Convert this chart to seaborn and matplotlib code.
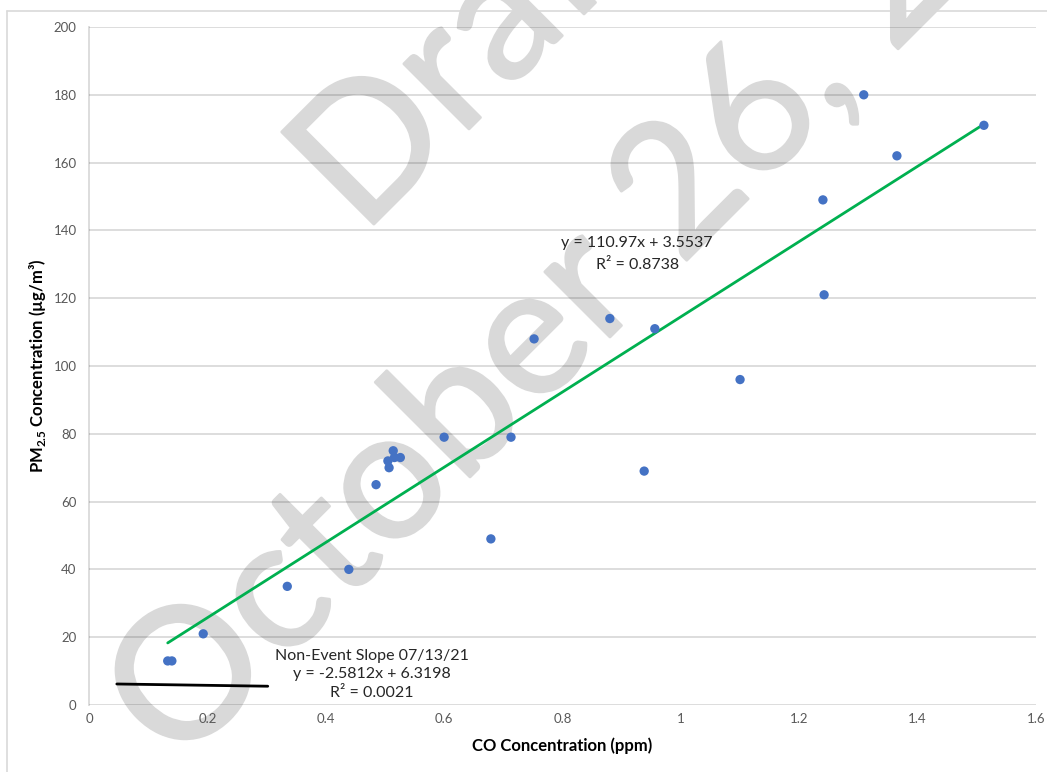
import seaborn as sns
import matplotlib.pyplot as plt
import matplotlib.ticker as mticker
import matplotlib.patheffects as pe
from matplotlib.lines import Line2D
import pandas as pd
import numpy as np

# Data
co_ppm = [0.133, 0.140, 0.193, 0.335, 0.439, 0.485, 0.505, 0.507, 0.514, 0.516, 0.526, 0.600,
          0.679, 0.713, 0.752, 0.880, 0.938, 0.956, 1.100, 1.240, 1.242, 1.309, 1.365, 1.512]
pm25 = [13, 13, 21, 35, 40, 65, 72, 70, 75, 73, 73, 79,
        49, 79, 108, 114, 69, 111, 96, 149, 121, 180, 162, 171]

# Trend lines (coefficients from the chart labels)
event_slope, event_icpt = 110.97, 3.5537
nonevent_slope, nonevent_icpt = -2.5812, 6.3198
nonevent_x = [0.047, 0.302]

event_label = ["y = 110.97x + 3.5537", "R² = 0.8738"]
nonevent_label = ["Non-Event Slope 07/13/21", "y = -2.5812x + 6.3198", "R² = 0.0021"]
watermark = ["Draft", "October 26, 2021"]

x_ticks = [0, 0.2, 0.4, 0.6, 0.8, 1.0, 1.2, 1.4, 1.6]
y_ticks = list(range(0, 201, 20))

df = pd.DataFrame({"co": co_ppm, "pm": pm25})
fit_x = [min(co_ppm), max(co_ppm)]
fit = pd.DataFrame({"x": fit_x, "y": [event_slope * v + event_icpt for v in fit_x]})
nonevent = pd.DataFrame({"x": nonevent_x, "y": [nonevent_slope * v + nonevent_icpt for v in nonevent_x]})

sns.set_style("white")
plt.rcParams['font.family'] = ['Lato', 'DejaVu Sans']
plt.rcParams['mathtext.fontset'] = 'custom'
plt.rcParams['mathtext.rm'] = 'Lato'
plt.rcParams['mathtext.bf'] = 'Lato:bold'

W, H = 1047, 772
fig = plt.figure(figsize=(W / 100, H / 100), dpi=100)
fig.patch.set_facecolor("white")

# watermark behind the (transparent) axes
wm_kw = dict(rotation=45, rotation_mode='anchor', ha='center', va='baseline',
             fontsize=131, color='#d9d9d9', zorder=0,
             path_effects=[pe.withStroke(linewidth=2, foreground='#d9d9d9')])
fig.text(512 / W, 1 - 86 / H, watermark[0], **wm_kw)
fig.text(684 / W, 1 - 263 / H, watermark[1], **wm_kw)

# chart area border (top & left visible)
fx, fy = 7 / W, 1 - 11 / H
fig.add_artist(Line2D([fx, 1], [fy, fy], color='#d9d9d9', lw=1.2))
fig.add_artist(Line2D([fx, fx], [0, fy], color='#d9d9d9', lw=1.2))

ax = fig.add_axes([89 / W, 1 - 705 / H, (1036 - 89) / W, (705 - 27) / H])
ax.set_zorder(1)
ax.patch.set_alpha(0)

sns.lineplot(data=fit, x="x", y="y", ax=ax, color="#00b050", lw=2, zorder=3)
sns.lineplot(data=nonevent, x="x", y="y", ax=ax, color="black", lw=2, zorder=3)
sns.scatterplot(data=df, x="co", y="pm", ax=ax, color="#4472c4", s=45, edgecolor="none", zorder=4)

ax.set_xlim(0, 1.6)
ax.set_ylim(0, 200)
ax.set_xticks(x_ticks)
ax.set_yticks(y_ticks)
ax.xaxis.set_major_formatter(mticker.FuncFormatter(lambda v, p: f"{v:g}"))
ax.yaxis.grid(True, color='black', alpha=0.15, lw=1.3)
ax.xaxis.grid(False)
for s in ['top', 'right', 'bottom']:
    ax.spines[s].set_visible(False)
ax.spines['left'].set_color((0, 0, 0, 0.15))
ax.spines['left'].set_linewidth(1.3)
ax.tick_params(axis='both', length=0, labelsize=9.5, labelcolor='#595959')
ax.tick_params(axis='y', pad=9)
ax.tick_params(axis='x', pad=6)

ax.set_xlabel("CO Concentration (ppm)", fontsize=12, fontweight='bold', color='black', labelpad=9)
ax.set_ylabel(r"PM$_{\mathbf{2.5}}$ Concentration (µg/m³)", fontsize=12, fontweight='bold',
              color='black', labelpad=4)

tk = dict(ha='center', va='center', fontsize=11.5, color='#262626', zorder=5)
ax.text(0.926, 136.3, event_label[0], **tk)
ax.text(0.926, 129.8, event_label[1], **tk)
ax.text(0.478, 14.45, nonevent_label[0], **tk)
ax.text(0.478, 9.14, nonevent_label[1], **tk)
ax.text(0.478, 3.54, nonevent_label[2], **tk)

plt.savefig("out.png", dpi=100)
plt.close()
